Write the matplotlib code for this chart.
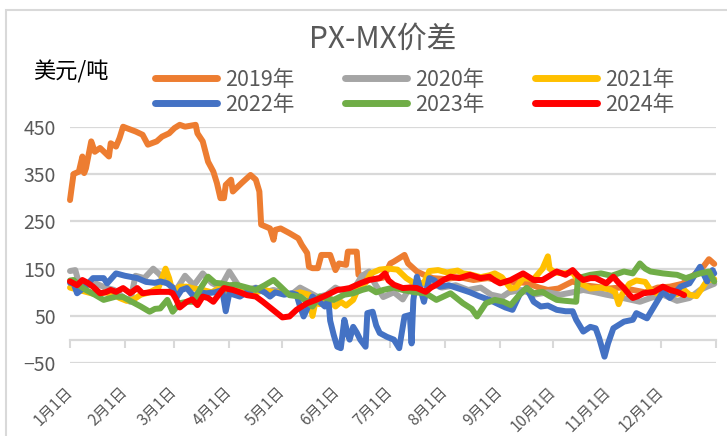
import matplotlib
matplotlib.use("Agg")
import matplotlib.pyplot as plt
from matplotlib.patches import Rectangle

plt.rcParams['font.family'] = ['Noto Sans CJK SC', 'DejaVu Sans']

# ---------------- data (x = day of year, 0 = Jan 1) ----------------
d2019 = [0,1,2,5,7,8,9,12,14,17,22,23,26,28,30,32,37,41,44,49,52,56,59,62,65,71,72,75,78,81,83,85,87,88,91,92,97,102,105,107,108,113,115,116,119,124,129,131,134,135,137,140,142,147,150,152,156,157,162,163,167,172,177,181,183,189,191,196,200,205,212,220,228,236,243,250,258,265,270,276,284,290,297,304,311,318,325,332,339,346,352,358,361,364]
v2019 = [295,323,350,355,387,352,362,419,397,405,387,415,408,426,450,447,440,433,412,419,429,436,447,454,450,454,436,419,376,355,331,299,299,327,338,313,331,348,338,313,243,235,211,232,235,225,214,200,183,154,151,151,179,179,147,161,158,186,186,137,133,128,131,161,165,179,161,144,137,130,128,132,126,130,125,122,120,110,105,108,123,115,112,108,110,105,100,110,112,118,135,155,170,160]

d2020 = [0,3,5,10,15,20,25,30,34,37,42,47,50,55,60,65,70,75,80,85,90,95,100,105,110,115,120,125,130,135,140,145,150,155,160,165,169,172,177,183,188,192,197,203,210,218,225,232,238,244,248,255,262,270,277,284,290,297,303,310,316,322,328,335,343,350,356,360,364]
v2020 = [145,147,120,115,118,110,105,90,80,135,130,150,140,120,105,135,115,140,120,110,144,115,105,110,100,105,100,95,110,100,90,95,110,100,105,135,144,120,90,100,85,110,115,120,110,115,105,110,95,90,100,105,95,100,95,100,105,100,95,90,85,80,88,95,82,88,105,112,118]

d2021 = [0,5,10,15,20,25,28,32,36,40,45,50,54,56,58,62,66,70,75,80,85,90,95,100,105,110,115,120,125,130,135,137,139,141,145,150,153,156,160,163,167,170,175,180,185,190,195,200,203,208,213,219,222,226,232,237,240,244,249,252,256,262,267,270,271,274,279,284,288,294,300,305,308,310,312,316,320,325,328,333,338,343,347,350,354,357,360,364]
v2021 = [110,105,100,95,100,95,88,82,85,95,100,110,150,130,100,112,112,108,105,100,110,100,105,95,100,105,100,100,95,100,95,50,85,75,90,70,80,72,84,110,120,140,148,150,148,130,118,120,145,147,142,146,140,138,132,136,140,132,108,110,130,128,150,176,150,142,140,142,120,108,110,106,100,75,96,118,125,122,105,95,100,96,105,95,92,108,125,128]

d2022 = [0,2,4,8,13,19,21,26,31,38,43,48,51,55,58,60,63,66,70,73,77,82,86,88,90,96,100,105,110,113,116,121,125,128,130,132,134,137,141,144,146,147,149,151,153,155,157,158,160,162,164,167,168,171,173,175,179,183,186,189,192,193,194,196,200,203,206,209,214,218,222,226,231,237,242,246,250,254,258,262,266,270,275,280,284,286,290,294,297,299,302,304,307,313,318,320,326,330,335,339,345,350,356,360,363,364]
v2022 = [120,119,98,110,130,130,119,140,135,130,122,120,123,119,110,88,105,109,91,100,98,100,105,60,98,91,100,109,100,91,100,95,98,95,70,49,65,91,80,70,84,40,10,-15,-18,42,10,0,27,15,0,-15,56,59,30,14,6,0,-18,49,52,-8,84,133,80,130,125,112,115,110,105,100,92,84,75,68,63,95,109,80,70,72,63,60,60,42,17,27,24,3,-36,-8,24,38,42,56,45,70,101,88,112,119,154,123,147,140]

d2023 = [0,2,5,9,14,19,23,26,30,35,40,45,48,51,55,58,62,66,70,74,78,82,85,90,94,100,105,110,115,119,124,130,134,137,141,145,149,155,160,165,169,173,177,183,188,195,201,207,215,222,227,230,235,240,245,249,254,258,262,267,271,275,280,286,287,294,300,306,313,318,322,325,328,335,340,343,348,352,356,361,364]
v2023 = [125,126,115,105,95,84,88,91,90,80,70,59,65,66,84,59,77,80,80,110,133,120,119,115,116,110,105,115,126,112,94,91,80,70,91,88,84,95,98,105,109,100,105,110,105,100,98,84,98,77,65,49,77,84,80,73,95,109,98,101,92,84,82,80,130,137,140,135,144,140,161,150,144,140,138,137,130,135,140,144,123]

d2024 = [0,4,7,10,13,17,20,23,26,30,34,38,41,45,51,56,58,60,62,66,69,72,75,78,81,84,87,92,96,100,105,109,113,117,120,124,128,131,134,139,145,151,155,158,164,169,175,178,180,183,188,192,196,201,204,207,211,215,220,226,232,237,240,243,249,256,262,267,271,275,280,284,287,290,294,297,303,307,310,313,316,318,321,324,330,335,339,343,347]
v2024 = [123,115,126,120,112,98,100,105,101,109,98,109,98,100,101,101,98,85,68,80,85,73,91,88,80,95,109,105,100,94,91,80,68,56,47,49,63,70,77,84,94,105,107,109,119,126,130,140,125,116,109,110,109,101,110,116,126,133,130,137,130,133,125,119,126,140,126,126,135,144,137,147,135,126,130,130,119,133,120,109,95,88,92,98,101,112,105,101,94]

series_names = ['2019年', '2020年', '2021年', '2022年', '2023年', '2024年']
series_days = [d2019, d2020, d2021, d2022, d2023, d2024]
series_vals = [v2019, v2020, v2021, v2022, v2023, v2024]
colors = ['#ED7D31', '#A5A5A5', '#FFC000', '#4472C4', '#70AD47', '#FF0000']

month_starts = [0, 31, 59, 90, 120, 151, 181, 212, 243, 273, 304, 334, 365]
month_labels = ['1月1日', '2月1日', '3月1日', '4月1日', '5月1日', '6月1日', '7月1日',
                '8月1日', '9月1日', '10月1日', '11月1日', '12月1日', '']
y_ticks = [-50, 50, 150, 250, 350, 450]
y_labels = ['−50', '50', '150', '250', '350', '450']

# ---------------- figure ----------------
W, H = 727, 436
fig = plt.figure(figsize=(W / 100, H / 100), dpi=100)
grid_c = '#D9D9D9'
text_c = '#595959'

ax = fig.add_axes([70 / W, 1 - 363.3 / H, 646 / W, (363.3 - 126.7) / H])
ax.set_xlim(0, 365)
ax.set_ylim(-50, 450)

lines = []
for d, v, c, n in zip(series_days, series_vals, colors, series_names):
    ln, = ax.plot(d, v, color=c, lw=4.3, solid_joinstyle='round',
                  solid_capstyle='round', label=n, clip_on=False, zorder=3)
    lines.append(ln)

for s in ['left', 'right', 'top']:
    ax.spines[s].set_visible(False)
ax.spines['bottom'].set_position(('data', 0))
ax.spines['bottom'].set_color(grid_c)
ax.spines['bottom'].set_linewidth(1.6)
ax.spines['bottom'].set_zorder(1)

ax.set_yticks(y_ticks)
ax.set_yticklabels(y_labels)
ax.yaxis.grid(True, color=grid_c, lw=1.6, zorder=0)
ax.set_axisbelow(True)
ax.tick_params(axis='y', length=0, pad=10, labelsize=14, labelcolor=text_c)

ax.set_xticks(month_starts)
ax.set_xticklabels(month_labels)
ax.tick_params(axis='x', length=6, width=1.5, color=grid_c, direction='out',
               pad=30, labelsize=11, labelcolor=text_c)
for lab in ax.get_xticklabels():
    lab.set_rotation(45)
    lab.set_ha('right')
    lab.set_va('center')
    lab.set_rotation_mode('anchor')

# chart border
fig.add_artist(Rectangle((6 / W, -0.2), 1.5, 1 - 10 / H + 0.2, transform=fig.transFigure,
                         fill=False, ec=grid_c, lw=1.5))

# title and unit
fig.text(383 / W, 1 - 39 / H, 'PX-MX价差', ha='center', va='center',
         fontsize=21.5, color=text_c)
fig.text(33 / W, 1 - 72 / H, '美元/吨', ha='left', va='center', fontsize=16, color='black')

# legend: rows 2019-2021 and 2022-2024
order = [0, 3, 1, 4, 2, 5]
leg = fig.legend([lines[i] for i in order], [series_names[i] for i in order],
                 ncol=3, loc='upper left', bbox_to_anchor=(155 / W, 1 - 69 / H),
                 frameon=False, fontsize=15.5, handlelength=2.9, handletextpad=0.35,
                 columnspacing=2.35, labelspacing=0.12, borderpad=0, borderaxespad=0)
for t in leg.get_texts():
    t.set_color(text_c)
for h in leg.legend_handles:
    h.set_linewidth(5)
    h.set_solid_capstyle('round')

fig.savefig('out.png', dpi=100)
